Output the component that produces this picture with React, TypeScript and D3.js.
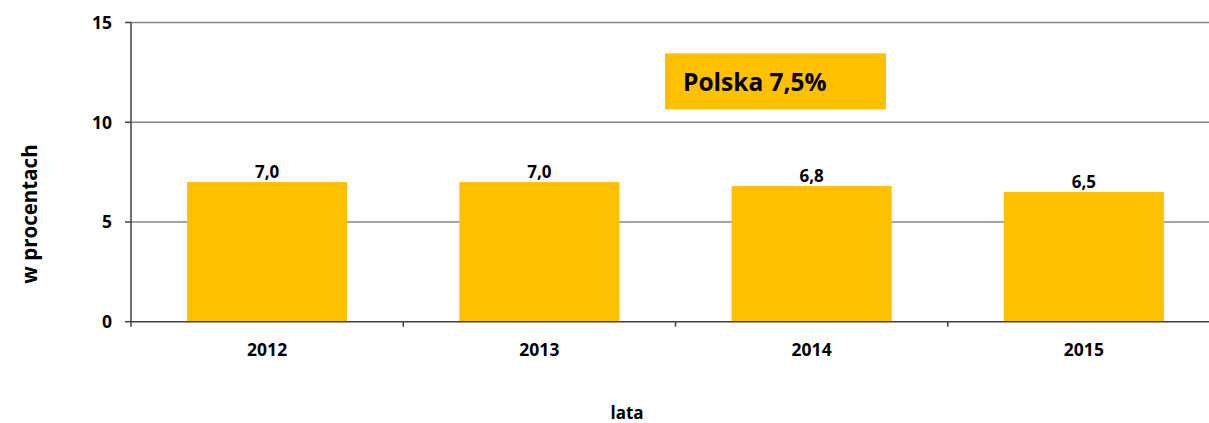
import React from "react";
import * as d3 from "d3";

const categories = ["2012", "2013", "2014", "2015"];
const values = [7.0, 7.0, 6.8, 6.5];
const yTicks = [0, 5, 10, 15];
const annotation = "Polska 7,5%";
const yTitle = "w procentach";
const xTitle = "lata";

const W = 1209;
const H = 423;
const left = 131;
const right = 1220;
const top = 22.5;
const bottom = 321.7;
const font = "'Open Sans', sans-serif";
const barColor = "#FFC000";

export default function App() {
  const x = d3.scaleBand().domain(categories).range([left, right]).paddingInner(0.412).paddingOuter(0.206);
  const y = d3.scaleLinear().domain([0, 15]).range([bottom, top]);
  const fmt = (v: number) => v.toFixed(1).replace(".", ",");
  const step = x.step();
  return (
    <svg width={W} height={H} style={{ position: "absolute", left: 0, top: 0 }}>
      <rect width={W} height={H} fill="#fff" />
      {yTicks.filter((t) => t > 0).map((t) => (
        <line key={t} x1={left} x2={right} y1={y(t)} y2={y(t)} stroke="#868686" strokeWidth={1.5} />
      ))}
      {categories.map((c, i) => (
        <rect key={c} x={x(c)} y={y(values[i])} width={x.bandwidth()} height={bottom - y(values[i])} fill={barColor} />
      ))}
      <line x1={left} x2={left} y1={top} y2={bottom + 5} stroke="#404040" strokeWidth={1.5} />
      <line x1={left} x2={right} y1={bottom} y2={bottom} stroke="#404040" strokeWidth={1.5} />
      {yTicks.map((t) => (
        <g key={t}>
          <line x1={left - 6} x2={left} y1={y(t)} y2={y(t)} stroke="#404040" strokeWidth={1.5} />
          <text x={112} y={y(t) + 6.3} textAnchor="end" fontFamily={font} fontWeight="bold" fontSize={17.5}>{t}</text>
        </g>
      ))}
      {categories.map((c, i) => (
        <line key={"t" + c} x1={left + step * (i + 1)} x2={left + step * (i + 1)} y1={bottom} y2={bottom + 5} stroke="#404040" strokeWidth={1.5} />
      ))}
      {categories.map((c, i) => (
        <g key={"l" + c}>
          <text x={x(c)! + x.bandwidth() / 2} y={356} textAnchor="middle" fontFamily={font} fontWeight="bold" fontSize={17.5}>{c}</text>
          <text x={x(c)! + x.bandwidth() / 2} y={y(values[i]) - 4} textAnchor="middle" fontFamily={font} fontWeight="bold" fontSize={17}>{fmt(values[i])}</text>
        </g>
      ))}
      <rect x={665} y={53.3} width={221} height={56} fill={barColor} />
      <text x={683} y={90.5} fontFamily={font} fontWeight="bold" fontSize={24.5}>{annotation}</text>
      <text transform={`translate(37,214) rotate(-90)`} textAnchor="middle" fontFamily={font} fontWeight="bold" fontSize={20.5}>{yTitle}</text>
      <text x={627} y={419} textAnchor="middle" fontFamily={font} fontWeight="bold" fontSize={17}>{xTitle}</text>
    </svg>
  );
}
